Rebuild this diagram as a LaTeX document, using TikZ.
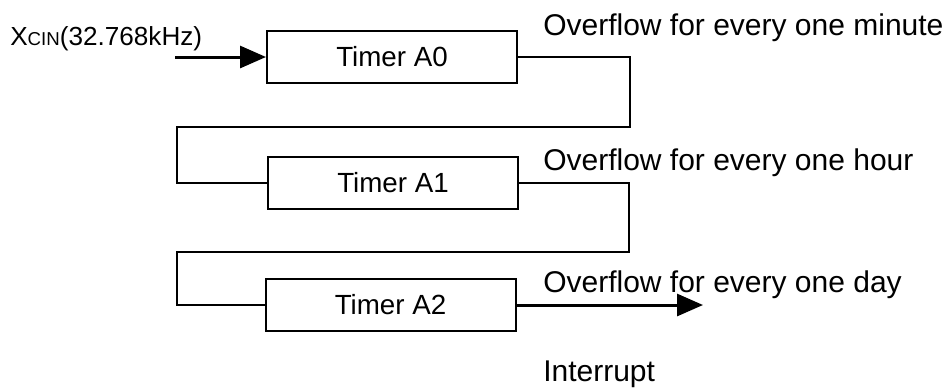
\documentclass[tikz,border=0pt]{standalone}
\usepackage{fontspec}
\setmainfont{Liberation Sans}
\usepackage{tikz}
\usetikzlibrary{arrows.meta,positioning,calc}
\tikzset{
  >={Triangle[length=19.5pt,width=16.5pt]},
  box/.style={draw=black,line width=1.5pt,minimum width=187.5pt,minimum height=39pt,inner sep=0pt,font=\fontsize{20.8}{22}\selectfont},
  lab/.style={anchor=base west,inner sep=0pt,font=\fontsize{22.5}{24}\selectfont},
  wire/.style={draw=black,line width=1.5pt},
  arr/.style={->,draw=black,line width=2.25pt},
}
\begin{document}
\begin{tikzpicture}[x=0.75pt,y=-0.75pt]
\useasboundingbox (0,0) rectangle (948,387);
% timers
\node[box] (a0) at (392,57) {Timer A0};
\node[box] (a1) at (393,183) {Timer A1};
\node[box] (a2) at (390.5,305) {Timer A2};
% input clock
\coordinate (in) at (175,57);
\node[anchor=base west,inner sep=0pt,font=\fontsize{19.6}{21}\selectfont] (xcin) at (10,45)
  {X{\fontsize{14}{15}\selectfont CIN}(32.768kHz)};
\draw[arr] (in) -- (a0.west);
% cascade wiring
\coordinate (r0) at (630,127); \coordinate (l0) at (177,127);
\coordinate (r1) at (629,252); \coordinate (l1) at (177,252);
\draw[wire] (a0.east) -| (r0) -- (l0) |- (a1.west);
\draw[wire] (a1.east) -| (r1) -- (l1) |- (a2.west);
% interrupt output
\coordinate (out) at (703,305);
\draw[arr] (a2.east) -- (out);
% labels
\node[lab] (ovm) at (543,35) {Overflow for every one minute};
\node[lab] (ovh) at (543,170) {Overflow for every one hour};
\node[lab] (ovd) at (543,292) {Overflow for every one day};
\node[lab] (irq) at (543,381) {Interrupt};
\end{tikzpicture}
\end{document}
